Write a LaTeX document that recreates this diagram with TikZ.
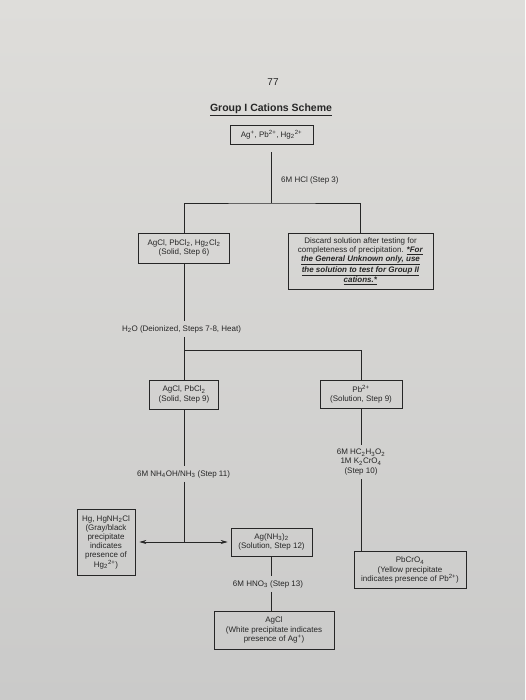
\documentclass[tikz,border=0pt]{standalone}
\usepackage{fontspec}
\setmainfont{Liberation Sans}
\usetikzlibrary{arrows.meta,positioning,calc}
\definecolor{paper}{RGB}{222,221,218}
\definecolor{paperlow}{RGB}{202,202,201}
\definecolor{ink}{RGB}{38,38,38}
\newcommand{\ulnote}[1]{\underline{\textbf{\textit{#1}}}}
\tikzset{
    box/.style={rectangle, draw=ink, text=ink, align=center, inner sep=1pt, font=\fontsize{8}{9.2}\selectfont, line width=0.7pt},
    lbl/.style={text=ink, align=center, inner sep=4pt, font=\fontsize{8}{9.2}\selectfont},
    line/.style={draw=ink, line width=0.7pt},
    dblarrow/.style={draw=ink, {Stealth[length=7pt,width=4pt]}-{Stealth[length=7pt,width=4pt]}, line width=0.7pt}
}

\begin{document}
\begin{tikzpicture}[x=1pt, y=-1pt, node distance=100pt]
    \shade[top color=paper, bottom color=paperlow] (0,0) rectangle (525,700);
    \node [lbl, font=\fontsize{10}{12}\selectfont] (page) at (273,82) {77};
    \node [lbl, font=\fontsize{10.5}{12}\selectfont\bfseries] (title) at (271,110) {\underline{Group I Cations Scheme}};

    \node [box, minimum width=83pt, minimum height=19pt] (ions) at (271.5,134.5) {Ag\textsuperscript{+}, Pb\textsuperscript{2+}, Hg\textsubscript{2}\textsuperscript{2+}};
    \node [box, below of=ions, node distance=113.5pt, xshift=-87.5pt, minimum width=91pt, minimum height=30pt] (solid6) {AgCl, PbCl\textsubscript{2}, Hg\textsubscript{2}Cl\textsubscript{2}\\(Solid, Step 6)};
    \node [box, right of=solid6, node distance=176.5pt, yshift=-13pt, minimum width=145pt, minimum height=56pt] (discard) {Discard solution after testing for\\completeness of precipitation. \ulnote{*For}\\\ulnote{the General Unknown only, use}\\\ulnote{the solution to test for Group II}\\\ulnote{cations.*}};
    \node [box, below of=solid6, node distance=146.5pt, minimum width=69pt, minimum height=29pt] (solid9) {AgCl, PbCl\textsubscript{2}\\(Solid, Step 9)};
    \node [box, right of=solid9, node distance=177pt, minimum width=82pt, minimum height=28pt] (soln9) {Pb\textsuperscript{2+}\\(Solution, Step 9)};
    \node [box, below of=solid9, node distance=147.5pt, xshift=-78pt, minimum width=58pt, minimum height=66pt] (hgppt) {Hg, HgNH\textsubscript{2}Cl\\(Gray/black\\precipitate\\indicates\\presence of\\Hg\textsubscript{2}\textsuperscript{2+})};
    \node [box, right of=hgppt, node distance=165.5pt, minimum width=81pt, minimum height=28pt] (agamm) {Ag(NH\textsubscript{3})\textsubscript{2}\\(Solution, Step 12)};
    \node [box, below of=soln9, node distance=175.5pt, xshift=49pt, minimum width=112pt, minimum height=37pt] (pbcro4) {PbCrO\textsubscript{4}\\(Yellow precipitate\\indicates presence of Pb\textsuperscript{2+})};
    \node [box, below of=agamm, node distance=88pt, xshift=2.5pt, minimum width=120pt, minimum height=38pt] (agcl) {AgCl\\(White precipitate indicates\\presence of Ag\textsuperscript{+})};

    % reagents
    \node [lbl, anchor=west] (hcl) at (277,180) {6M HCl (Step 3)};
    \node [lbl] (water) at (181.5,329) {H\textsubscript{2}O (Deionized, Steps 7-8, Heat)};
    \node [lbl] (nh) at (183.5,474) {6M NH\textsubscript{4}OH/NH\textsubscript{3} (Step 11)};
    \node [lbl] (acid) at (361,462) {6M HC\textsubscript{2}H\textsubscript{3}O\textsubscript{2}\\1M K\textsubscript{2}CrO\textsubscript{4}\\(Step 10)};
    \node [lbl] (hno) at (268,584) {6M HNO\textsubscript{3} (Step 13)};

    \coordinate (split1) at (271.5,203);
    \coordinate (split2) at (184,350);
    \coordinate (split3) at (184,542);

    \path [line] ([yshift=-8pt]ions.south) -- (split1);
    \path [line] (solid6.north) |- (split1) -| (discard.north);
    \path [line] (solid6.south) -- (solid6.south |- water.north);
    \path [line] (solid9.north |- water.south) -- (solid9.north);
    \path [line] (split2) -| (soln9.north);
    \path [line] (solid9.south) -- (solid9.south |- nh.north);
    \path [line] (solid9.south |- nh.south) -- (split3);
    \path [dblarrow] ([xshift=4pt]hgppt.east) -- ([xshift=-3pt]agamm.west);
    \path [line] (soln9.south) -- (soln9.south |- acid.north);
    \path [line] (soln9.south |- acid.south) -- (soln9.south |- pbcro4.north);
    \path [line] (agamm.south) -- (agamm.south |- hno.north);
    \path [line] (agamm.south |- hno.south) -- (agamm.south |- agcl.north);
\end{tikzpicture}
\end{document}
